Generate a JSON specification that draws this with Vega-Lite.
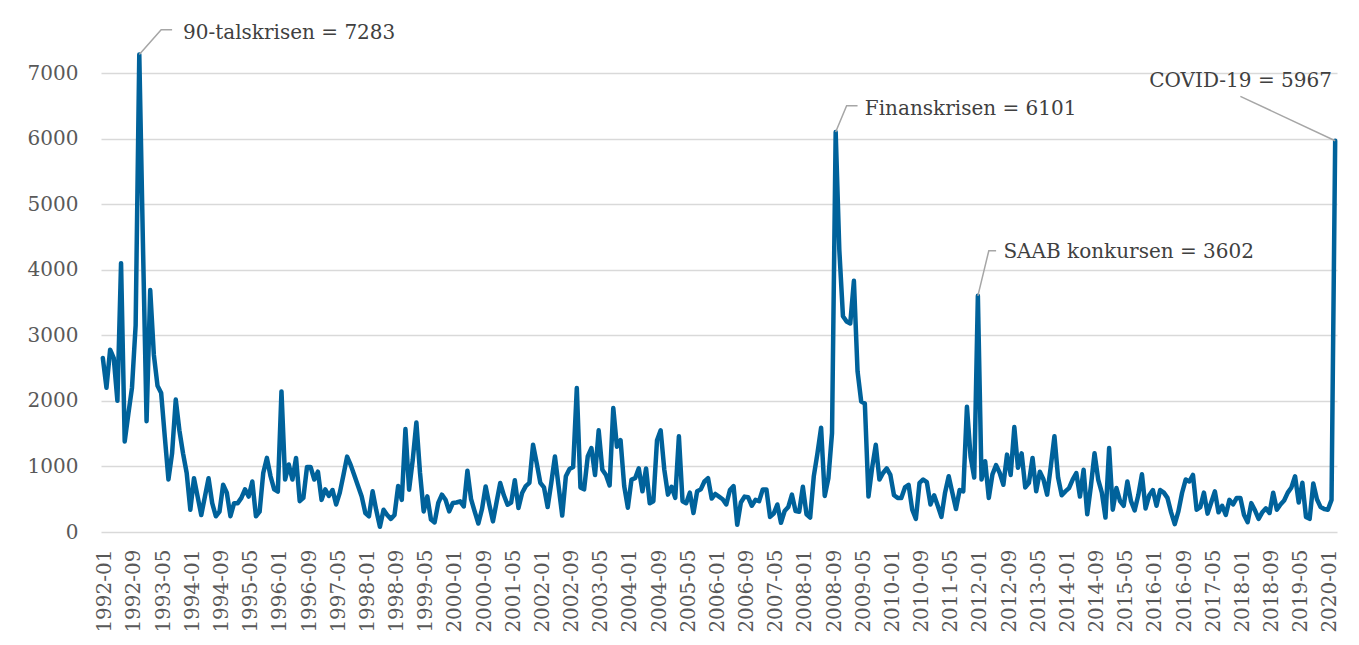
{
  "$schema": "https://vega.github.io/schema/vega-lite/v6.json",
  "width": 1236,
  "height": 459,
  "autosize": {"type": "none"},
  "padding": {"left": 101, "top": 73, "right": 22, "bottom": 113},
  "background": "white",
  "config": {
    "view": {"stroke": null},
    "font": "DejaVu Serif",
    "axis": {"labelFont": "DejaVu Serif", "labelFontSize": 20, "labelColor": "#595959", "titleFont": "DejaVu Serif"}
  },
  "datasets": {
    "series": [
      {"m":"1992-01","v":2654},{"m":"1992-02","v":2200},{"m":"1992-03","v":2780},{"m":"1992-04","v":2650},{"m":"1992-05","v":2000},{"m":"1992-06","v":4100},{"m":"1992-07","v":1380},{"m":"1992-08","v":1800},{"m":"1992-09","v":2200},{"m":"1992-10","v":3150},{"m":"1992-11","v":7283},{"m":"1992-12","v":4400},
      {"m":"1993-01","v":1690},{"m":"1993-02","v":3690},{"m":"1993-03","v":2700},{"m":"1993-04","v":2230},{"m":"1993-05","v":2120},{"m":"1993-06","v":1450},{"m":"1993-07","v":800},{"m":"1993-08","v":1200},{"m":"1993-09","v":2020},{"m":"1993-10","v":1550},{"m":"1993-11","v":1200},{"m":"1993-12","v":900},
      {"m":"1994-01","v":340},{"m":"1994-02","v":820},{"m":"1994-03","v":540},{"m":"1994-04","v":260},{"m":"1994-05","v":540},{"m":"1994-06","v":820},{"m":"1994-07","v":440},{"m":"1994-08","v":240},{"m":"1994-09","v":310},{"m":"1994-10","v":720},{"m":"1994-11","v":600},{"m":"1994-12","v":240},
      {"m":"1995-01","v":440},{"m":"1995-02","v":440},{"m":"1995-03","v":520},{"m":"1995-04","v":650},{"m":"1995-05","v":540},{"m":"1995-06","v":770},{"m":"1995-07","v":240},{"m":"1995-08","v":310},{"m":"1995-09","v":900},{"m":"1995-10","v":1130},{"m":"1995-11","v":850},{"m":"1995-12","v":650},
      {"m":"1996-01","v":615},{"m":"1996-02","v":2144},{"m":"1996-03","v":800},{"m":"1996-04","v":1030},{"m":"1996-05","v":800},{"m":"1996-06","v":1130},{"m":"1996-07","v":470},{"m":"1996-08","v":520},{"m":"1996-09","v":990},{"m":"1996-10","v":990},{"m":"1996-11","v":800},{"m":"1996-12","v":920},
      {"m":"1997-01","v":490},{"m":"1997-02","v":650},{"m":"1997-03","v":550},{"m":"1997-04","v":640},{"m":"1997-05","v":420},{"m":"1997-06","v":600},{"m":"1997-07","v":870},{"m":"1997-08","v":1150},{"m":"1997-09","v":1020},{"m":"1997-10","v":860},{"m":"1997-11","v":700},{"m":"1997-12","v":540},
      {"m":"1998-01","v":290},{"m":"1998-02","v":240},{"m":"1998-03","v":620},{"m":"1998-04","v":330},{"m":"1998-05","v":80},{"m":"1998-06","v":340},{"m":"1998-07","v":260},{"m":"1998-08","v":200},{"m":"1998-09","v":260},{"m":"1998-10","v":700},{"m":"1998-11","v":490},{"m":"1998-12","v":1570},
      {"m":"1999-01","v":645},{"m":"1999-02","v":1100},{"m":"1999-03","v":1670},{"m":"1999-04","v":900},{"m":"1999-05","v":314},{"m":"1999-06","v":543},{"m":"1999-07","v":190},{"m":"1999-08","v":146},{"m":"1999-09","v":442},{"m":"1999-10","v":569},{"m":"1999-11","v":492},{"m":"1999-12","v":314},
      {"m":"2000-01","v":442},{"m":"2000-02","v":450},{"m":"2000-03","v":467},{"m":"2000-04","v":390},{"m":"2000-05","v":935},{"m":"2000-06","v":500},{"m":"2000-07","v":310},{"m":"2000-08","v":130},{"m":"2000-09","v":350},{"m":"2000-10","v":695},{"m":"2000-11","v":416},{"m":"2000-12","v":162},
      {"m":"2001-01","v":457},{"m":"2001-02","v":747},{"m":"2001-03","v":560},{"m":"2001-04","v":416},{"m":"2001-05","v":450},{"m":"2001-06","v":790},{"m":"2001-07","v":366},{"m":"2001-08","v":595},{"m":"2001-09","v":700},{"m":"2001-10","v":750},{"m":"2001-11","v":1330},{"m":"2001-12","v":1050},
      {"m":"2002-01","v":750},{"m":"2002-02","v":680},{"m":"2002-03","v":380},{"m":"2002-04","v":750},{"m":"2002-05","v":1150},{"m":"2002-06","v":700},{"m":"2002-07","v":250},{"m":"2002-08","v":850},{"m":"2002-09","v":960},{"m":"2002-10","v":990},{"m":"2002-11","v":2196},{"m":"2002-12","v":680},
      {"m":"2003-01","v":650},{"m":"2003-02","v":1153},{"m":"2003-03","v":1280},{"m":"2003-04","v":870},{"m":"2003-05","v":1550},{"m":"2003-06","v":950},{"m":"2003-07","v":870},{"m":"2003-08","v":710},{"m":"2003-09","v":1890},{"m":"2003-10","v":1300},{"m":"2003-11","v":1400},{"m":"2003-12","v":700},
      {"m":"2004-01","v":370},{"m":"2004-02","v":800},{"m":"2004-03","v":820},{"m":"2004-04","v":970},{"m":"2004-05","v":620},{"m":"2004-06","v":970},{"m":"2004-07","v":440},{"m":"2004-08","v":470},{"m":"2004-09","v":1400},{"m":"2004-10","v":1550},{"m":"2004-11","v":950},{"m":"2004-12","v":570},
      {"m":"2005-01","v":690},{"m":"2005-02","v":520},{"m":"2005-03","v":1460},{"m":"2005-04","v":470},{"m":"2005-05","v":440},{"m":"2005-06","v":600},{"m":"2005-07","v":290},{"m":"2005-08","v":620},{"m":"2005-09","v":650},{"m":"2005-10","v":770},{"m":"2005-11","v":820},{"m":"2005-12","v":510},
      {"m":"2006-01","v":580},{"m":"2006-02","v":540},{"m":"2006-03","v":500},{"m":"2006-04","v":420},{"m":"2006-05","v":640},{"m":"2006-06","v":700},{"m":"2006-07","v":110},{"m":"2006-08","v":450},{"m":"2006-09","v":540},{"m":"2006-10","v":530},{"m":"2006-11","v":400},{"m":"2006-12","v":490},
      {"m":"2007-01","v":470},{"m":"2007-02","v":650},{"m":"2007-03","v":650},{"m":"2007-04","v":230},{"m":"2007-05","v":280},{"m":"2007-06","v":420},{"m":"2007-07","v":140},{"m":"2007-08","v":320},{"m":"2007-09","v":380},{"m":"2007-10","v":570},{"m":"2007-11","v":320},{"m":"2007-12","v":310},
      {"m":"2008-01","v":690},{"m":"2008-02","v":270},{"m":"2008-03","v":220},{"m":"2008-04","v":850},{"m":"2008-05","v":1200},{"m":"2008-06","v":1590},{"m":"2008-07","v":550},{"m":"2008-08","v":820},{"m":"2008-09","v":1510},{"m":"2008-10","v":6101},{"m":"2008-11","v":4300},{"m":"2008-12","v":3290},
      {"m":"2009-01","v":3210},{"m":"2009-02","v":3180},{"m":"2009-03","v":3830},{"m":"2009-04","v":2450},{"m":"2009-05","v":1990},{"m":"2009-06","v":1960},{"m":"2009-07","v":540},{"m":"2009-08","v":980},{"m":"2009-09","v":1330},{"m":"2009-10","v":800},{"m":"2009-11","v":900},{"m":"2009-12","v":970},
      {"m":"2010-01","v":870},{"m":"2010-02","v":560},{"m":"2010-03","v":520},{"m":"2010-04","v":520},{"m":"2010-05","v":680},{"m":"2010-06","v":720},{"m":"2010-07","v":340},{"m":"2010-08","v":200},{"m":"2010-09","v":750},{"m":"2010-10","v":800},{"m":"2010-11","v":760},{"m":"2010-12","v":420},
      {"m":"2011-01","v":560},{"m":"2011-02","v":400},{"m":"2011-03","v":230},{"m":"2011-04","v":600},{"m":"2011-05","v":850},{"m":"2011-06","v":600},{"m":"2011-07","v":350},{"m":"2011-08","v":640},{"m":"2011-09","v":620},{"m":"2011-10","v":1910},{"m":"2011-11","v":1150},{"m":"2011-12","v":830},
      {"m":"2012-01","v":3602},{"m":"2012-02","v":800},{"m":"2012-03","v":1080},{"m":"2012-04","v":520},{"m":"2012-05","v":880},{"m":"2012-06","v":1020},{"m":"2012-07","v":900},{"m":"2012-08","v":720},{"m":"2012-09","v":1180},{"m":"2012-10","v":870},{"m":"2012-11","v":1600},{"m":"2012-12","v":980},
      {"m":"2013-01","v":1200},{"m":"2013-02","v":680},{"m":"2013-03","v":750},{"m":"2013-04","v":1130},{"m":"2013-05","v":620},{"m":"2013-06","v":920},{"m":"2013-07","v":800},{"m":"2013-08","v":570},{"m":"2013-09","v":1000},{"m":"2013-10","v":1460},{"m":"2013-11","v":830},{"m":"2013-12","v":560},
      {"m":"2014-01","v":620},{"m":"2014-02","v":670},{"m":"2014-03","v":800},{"m":"2014-04","v":900},{"m":"2014-05","v":540},{"m":"2014-06","v":950},{"m":"2014-07","v":270},{"m":"2014-08","v":700},{"m":"2014-09","v":1200},{"m":"2014-10","v":800},{"m":"2014-11","v":600},{"m":"2014-12","v":220},
      {"m":"2015-01","v":1280},{"m":"2015-02","v":340},{"m":"2015-03","v":670},{"m":"2015-04","v":470},{"m":"2015-05","v":400},{"m":"2015-06","v":770},{"m":"2015-07","v":470},{"m":"2015-08","v":330},{"m":"2015-09","v":560},{"m":"2015-10","v":880},{"m":"2015-11","v":360},{"m":"2015-12","v":560},
      {"m":"2016-01","v":640},{"m":"2016-02","v":400},{"m":"2016-03","v":640},{"m":"2016-04","v":600},{"m":"2016-05","v":520},{"m":"2016-06","v":300},{"m":"2016-07","v":120},{"m":"2016-08","v":314},{"m":"2016-09","v":595},{"m":"2016-10","v":800},{"m":"2016-11","v":770},{"m":"2016-12","v":870},
      {"m":"2017-01","v":340},{"m":"2017-02","v":380},{"m":"2017-03","v":600},{"m":"2017-04","v":280},{"m":"2017-05","v":450},{"m":"2017-06","v":620},{"m":"2017-07","v":300},{"m":"2017-08","v":400},{"m":"2017-09","v":260},{"m":"2017-10","v":490},{"m":"2017-11","v":420},{"m":"2017-12","v":520},
      {"m":"2018-01","v":520},{"m":"2018-02","v":260},{"m":"2018-03","v":150},{"m":"2018-04","v":440},{"m":"2018-05","v":330},{"m":"2018-06","v":200},{"m":"2018-07","v":300},{"m":"2018-08","v":360},{"m":"2018-09","v":290},{"m":"2018-10","v":600},{"m":"2018-11","v":340},{"m":"2018-12","v":420},
      {"m":"2019-01","v":480},{"m":"2019-02","v":600},{"m":"2019-03","v":680},{"m":"2019-04","v":850},{"m":"2019-05","v":450},{"m":"2019-06","v":750},{"m":"2019-07","v":230},{"m":"2019-08","v":200},{"m":"2019-09","v":740},{"m":"2019-10","v":500},{"m":"2019-11","v":380},{"m":"2019-12","v":350},
      {"m":"2020-01","v":340},{"m":"2020-02","v":490},{"m":"2020-03","v":5967}
    ],
    "notes": [
      {"m":"1993-11","v":7518,"t":"90-talskrisen = 7283"},
      {"m":"2009-06","v":6364,"t":"Finanskrisen = 6101"},
      {"m":"2012-08","v":4178,"t":"SAAB konkursen = 3602"},
      {"m":"2015-12","v":6780,"t":"COVID-19 = 5967"}
    ],
    "leaders": [
      {"id":"a","m":"1992-11","v":7283},{"id":"a","m":"1993-05","v":7660},{"id":"a","m":"1993-08","v":7660},
      {"id":"b","m":"2008-10","v":6101},{"id":"b","m":"2009-01","v":6500},{"id":"b","m":"2009-04","v":6500},
      {"id":"c","m":"2012-01","v":3602},{"id":"c","m":"2012-04","v":4290},{"id":"c","m":"2012-06","v":4290},
      {"id":"d","m":"2018-01","v":6643},{"id":"d","m":"2020-03","v":5967}
    ]
  },
  "layer": [
    {
      "data": {"name": "series"},
      "mark": {"type": "line", "color": "#00629b", "strokeWidth": 4.5, "strokeJoin": "round", "strokeCap": "round"},
      "encoding": {
        "x": {
          "field": "m", "type": "ordinal", "sort": "ascending",
          "scale": {"type": "point", "padding": 0.5},
          "axis": {
            "title": null, "ticks": false, "domain": false, "grid": false,
            "labelAngle": -90, "labelPadding": 17, "labelOffset": 2,
            "values": ["1992-01","1992-09","1993-05","1994-01","1994-09","1995-05","1996-01","1996-09","1997-05","1998-01","1998-09","1999-05","2000-01","2000-09","2001-05","2002-01","2002-09","2003-05","2004-01","2004-09","2005-05","2006-01","2006-09","2007-05","2008-01","2008-09","2009-05","2010-01","2010-09","2011-05","2012-01","2012-09","2013-05","2014-01","2014-09","2015-05","2016-01","2016-09","2017-05","2018-01","2018-09","2019-05","2020-01"]
          }
        },
        "y": {
          "field": "v", "type": "quantitative",
          "scale": {"domain": [0, 7000], "nice": false, "zero": true},
          "axis": {
            "title": null, "ticks": false, "domain": false, "format": "d",
            "values": [0,1000,2000,3000,4000,5000,6000,7000],
            "labelPadding": 23, "gridColor": "#d9d9d9", "gridWidth": 1.4
          }
        }
      }
    },
    {
      "data": {"name": "leaders"},
      "mark": {"type": "line", "color": "#a6a6a6", "strokeWidth": 1.5},
      "encoding": {
        "x": {"field": "m", "type": "ordinal"},
        "y": {"field": "v", "type": "quantitative"},
        "detail": {"field": "id"}
      }
    },
    {
      "data": {"name": "notes"},
      "mark": {"type": "text", "align": "left", "baseline": "alphabetic", "font": "DejaVu Serif", "fontSize": 20, "color": "#404040"},
      "encoding": {
        "x": {"field": "m", "type": "ordinal"},
        "y": {"field": "v", "type": "quantitative"},
        "text": {"field": "t"}
      }
    }
  ]
}
